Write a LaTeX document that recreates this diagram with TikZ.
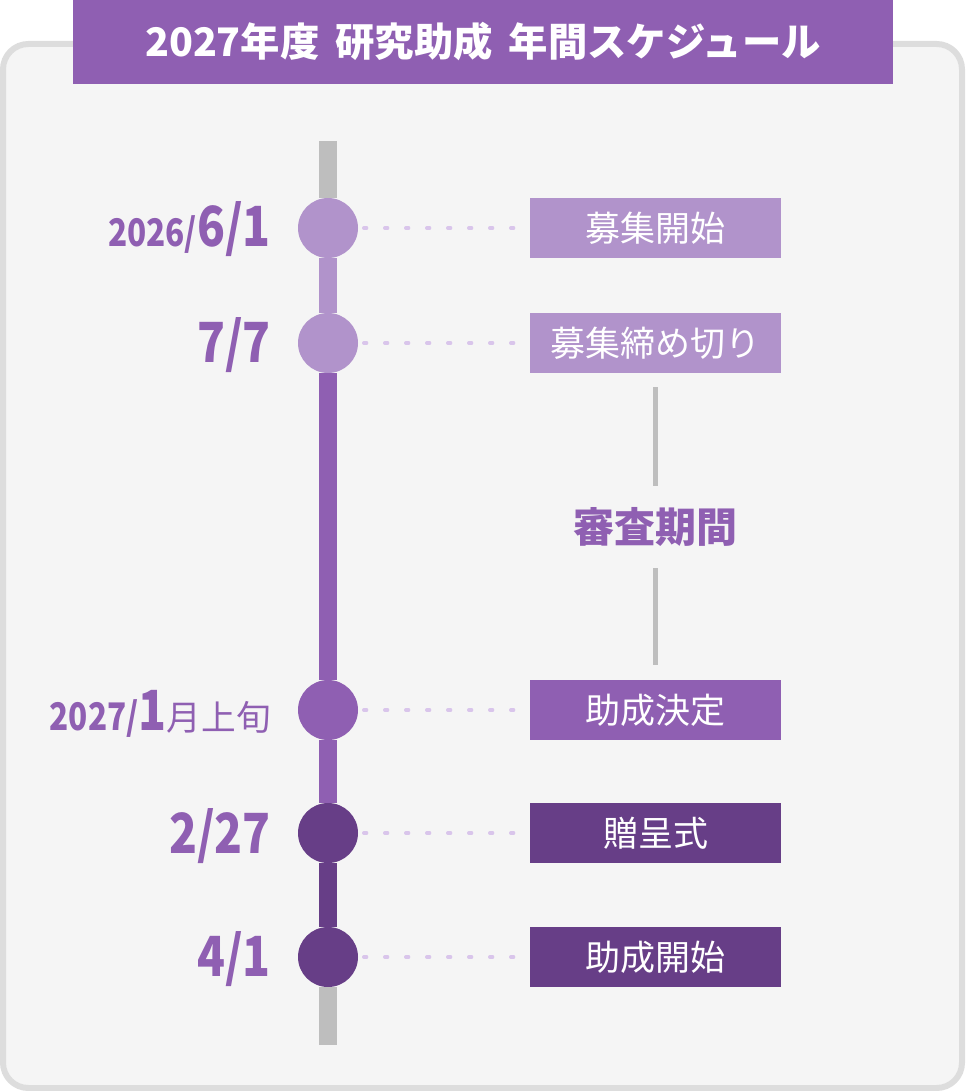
\documentclass[tikz,border=0pt]{standalone}
\usepackage{fontspec}
\setmainfont{Noto Sans CJK JP}
\newfontfamily\jpfont{Noto Sans CJK JP}
\newfontfamily\condfont[FakeStretch=0.83]{Noto Sans CJK JP}
\definecolor{lightp}{HTML}{B193CB}
\definecolor{midp}{HTML}{8F5FB2}
\definecolor{darkp}{HTML}{673E87}
\definecolor{linegray}{HTML}{BEBEBE}
\definecolor{panelc}{HTML}{F5F5F5}
\definecolor{borderc}{HTML}{DDDDDD}
\definecolor{dotc}{HTML}{D9C5EB}
\begin{document}
\begin{tikzpicture}[x=0.75pt,y=-0.75pt,
  dotnode/.style={circle,minimum size=45pt,inner sep=0pt},
  boxnode/.style={minimum width=188.25pt,minimum height=45pt,inner sep=0pt,text=white,
    font=\jpfont\fontsize{26.25}{28}\selectfont},
  seg/.style={line width=13.5pt},
  dotline/.style={dotc,line width=2.6pt,line cap=round,dash pattern=on 2.1pt off 13.65pt,
    shorten <=4.125pt,shorten >=12pt},
  revline/.style={linegray,line width=4.2pt},
  datelbl/.style={anchor=base east,inner sep=0pt,text=midp,
    font=\condfont\bfseries\fontsize{41.5}{44}\selectfont}
]
\useasboundingbox (0,0) rectangle (965,1091);
% panel
\draw[line width=4.5pt,draw=borderc,fill=panelc,rounded corners=19pt] (3,44) rectangle (962,1088);
% title
\node[fill=midp,minimum width=615pt,minimum height=63pt,inner sep=0pt,text=white,
  font=\jpfont\bfseries\fontsize{29.5}{32}\selectfont] (title) at (483,42)
  {2027年度\hspace{12pt}研究助成\hspace{12pt}年間スケジュール};
% timeline nodes
\coordinate (top) at (328,141);
\coordinate (bot) at (328,1045);
\node[dotnode,fill=lightp] (c1) at (328,228) {};
\node[dotnode,fill=lightp] (c2) at (328,343) {};
\node[dotnode,fill=midp] (c3) at (328,710) {};
\node[dotnode,fill=darkp] (c4) at (328,833) {};
\node[dotnode,fill=darkp] (c5) at (328,957) {};
\draw[seg,linegray] (top) -- (c1);
\draw[seg,lightp] (c1) -- (c2);
\draw[seg,midp] (c2) -- (c3);
\draw[seg,midp] (c3) -- (c4);
\draw[seg,darkp] (c4) -- (c5);
\draw[seg,linegray] (c5) -- (bot);
% boxes
\node[boxnode,fill=lightp] (b1) at (655.5,228) {募集開始};
\node[boxnode,fill=lightp] (b2) at (655.5,343) {募集締め切り};
\node[boxnode,fill=midp] (b3) at (655.5,710) {助成決定};
\node[boxnode,fill=darkp] (b4) at (655.5,833) {贈呈式};
\node[boxnode,fill=darkp] (b5) at (655.5,957) {助成開始};
% dotted connectors
\draw[dotline] (c1) -- (b1);
\draw[dotline] (c2) -- (b2);
\draw[dotline] (c3) -- (b3);
\draw[dotline] (c4) -- (b4);
\draw[dotline] (c5) -- (b5);
% review period
\node[minimum height=60pt,inner sep=0pt,text=midp,
  font=\jpfont\bfseries\fontsize{30.75}{32}\selectfont] (rev) at (655.5,527) {審査期間};
\draw[revline,shorten <=10.5pt,shorten >=0.75pt] (b2) -- (rev);
\draw[revline,shorten <=0.75pt,shorten >=11.25pt] (rev) -- (b3);
% date labels
\node[datelbl] (d1) at (271,247) {{\fontsize{28.5}{30}\selectfont 2026/}6/1};
\node[datelbl] (d2) at (271,362) {7/7};
\node[datelbl] (d3) at (271,730) {{\fontsize{28.5}{30}\selectfont 2027/}1{\jpfont\mdseries\fontsize{26}{28}\selectfont 月上旬}};
\node[datelbl] (d4) at (271,853) {2/27};
\node[datelbl] (d5) at (271,976) {4/1};
\end{tikzpicture}
\end{document}
